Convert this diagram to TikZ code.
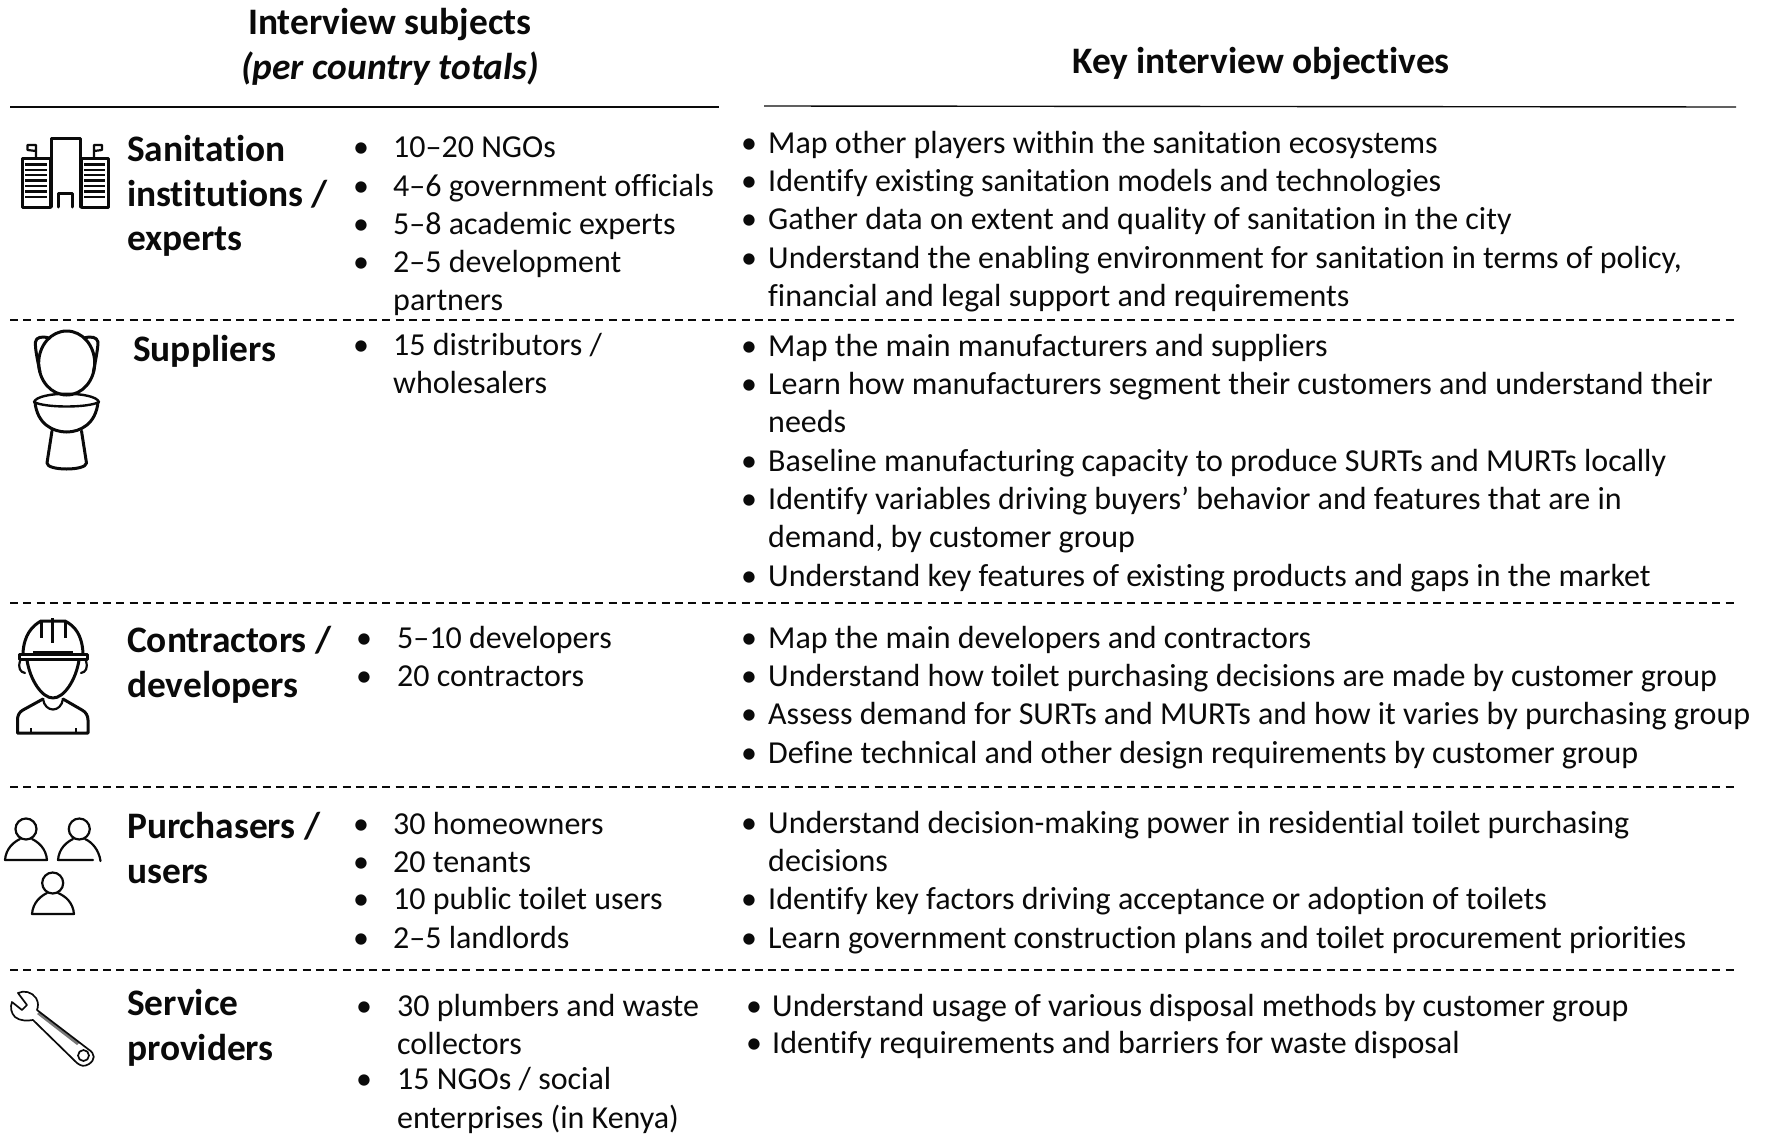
\documentclass[tikz,border=0pt]{standalone}
\usepackage{fontspec}
\setmainfont{Carlito}[Ligatures=NoCommon]
\definecolor{ink}{HTML}{0A0A0A}
\tikzset{
  body/.style={inner sep=0pt,anchor=north west,align=left,text=ink,font=\fontsize{32}{38.2}\selectfont,yshift=15.5pt},
  lab/.style={inner sep=0pt,anchor=north west,align=left,text=ink,font=\bfseries\fontsize{37.4}{44.6}\selectfont,yshift=18pt},
  head/.style={inner sep=0pt,anchor=center,align=center,text=ink,font=\bfseries\fontsize{37.4}{44.6}\selectfont},
  rulesolid/.style={draw=ink,line width=1.4pt},
  ruledash/.style={draw=ink,line width=1.2pt,dash pattern=on 8pt off 5.3pt},
  icon/.style={draw=ink,line width=3pt,line join=round,line cap=round,fill=none},
  iconthin/.style={draw=ink,line width=2.2pt,line join=round,line cap=round,fill=none},
  iconfine/.style={draw=ink,line width=1.7pt,line join=round,line cap=round,fill=none}
}
\newcommand{\rowitem}[5]{%
  \node[body,anchor=north] (#1b) at (#2,#4) {\strut•};
  \node[body] (#1t) at (#3,#4) {\strut #5};}
\begin{document}
\begin{tikzpicture}[x=1pt,y=-1pt]
\useasboundingbox (0,0) rectangle (1769,1135);
% headers
\node[head] (h1) at (390,25) {Interview subjects};
\node[head,font=\bfseries\itshape\fontsize{37.4}{44.6}\selectfont] (h2) at (390,69) {(per country totals)};
\node[head] (h3) at (1261,64) {Key interview objectives};
% rules
\coordinate (l1a) at (10,107); \coordinate (l1b) at (719,107);
\coordinate (l2a) at (764,106); \coordinate (l2b) at (1736,107);
\draw[rulesolid] (l1a) -- (l1b);
\draw[rulesolid] (l2a) -- (l2b);
\foreach \n/\y in {a/320,b/603,c/787,d/970}{
  \coordinate (d\n1) at (10,\y); \coordinate (d\n2) at (1736,\y);
  \draw[ruledash] (d\n1) -- (d\n2);
}
% row labels
\node[lab] (s1) at (127,148) {\strut Sanitation\\institutions /\\experts};
\node[lab] (s2) at (133,348) {\strut Suppliers};
\node[lab] (s3) at (127,639) {\strut Contractors /\\developers};
\node[lab] (s4) at (127,825) {\strut Purchasers /\\users};
\node[lab] (s5) at (127,1002) {\strut Service\\providers};
% subjects
\rowitem{a1}{361}{393}{146.5}{10–20 NGOs}
\rowitem{a2}{361}{393}{185}{4–6 government officials}
\rowitem{a3}{361}{393}{223}{5–8 academic experts}
\rowitem{a4}{361}{393}{261}{2–5 development\\partners}
\rowitem{b1}{361}{393}{344}{15 distributors /\\wholesalers}
\rowitem{c1}{364}{397}{637}{5–10 developers}
\rowitem{c2}{364}{397}{675}{20 contractors}
\rowitem{d1}{361}{393}{823}{30 homeowners}
\rowitem{d2}{361}{393}{861}{20 tenants}
\rowitem{d3}{361}{393}{898}{10 public toilet users}
\rowitem{d4}{361}{393}{937}{2–5 landlords}
\rowitem{e1}{364}{397}{1005}{30 plumbers and waste\\collectors}
\rowitem{e2}{364}{397}{1078.5}{15 NGOs / social\\enterprises (in Kenya)}
% objectives
\rowitem{f1}{749}{768}{142}{Map other players within the sanitation ecosystems}
\rowitem{f2}{749}{768}{180}{Identify existing sanitation models and technologies}
\rowitem{f3}{749}{768}{218}{Gather data on extent and quality of sanitation in the city}
\rowitem{f4}{749}{768}{257}{Understand the enabling environment for sanitation in terms of policy,\\financial and legal support and requirements}
\rowitem{g1}{749}{768}{345}{Map the main manufacturers and suppliers}
\rowitem{g2}{749}{768}{383}{Learn how manufacturers segment their customers and understand their\\needs}
\rowitem{g3}{749}{768}{460}{Baseline manufacturing capacity to produce SURTs and MURTs locally}
\rowitem{g4}{749}{768}{498}{Identify variables driving buyers’ behavior and features that are in\\demand, by customer group}
\rowitem{g5}{749}{768}{575}{Understand key features of existing products and gaps in the market}
\rowitem{h1}{749}{768}{637}{Map the main developers and contractors}
\rowitem{h2}{749}{768}{675}{Understand how toilet purchasing decisions are made by customer group}
\rowitem{h3}{749}{768}{713}{Assess demand for SURTs and MURTs and how it varies by purchasing group}
\rowitem{h4}{749}{768}{752}{Define technical and other design requirements by customer group}
\rowitem{i1}{749}{768}{822}{Understand decision-making power in residential toilet purchasing\\decisions}
\rowitem{i2}{749}{768}{898}{Identify key factors driving acceptance or adoption of toilets}
\rowitem{i3}{749}{768}{937}{Learn government construction plans and toilet procurement priorities}
\rowitem{j1}{754}{772}{1005}{Understand usage of various disposal methods by customer group}
\rowitem{j2}{754}{772}{1042.5}{Identify requirements and barriers for waste disposal}
% building icon
\draw[icon] (22,158) rectangle (50,207);
\draw[icon] (81,158) rectangle (108,207);
\draw[icon] (51,207) -- (51,138) -- (80,138) -- (80,207);
\draw[icon] (58,207) -- (58,193) -- (72,193) -- (72,207);
\foreach \y in {164.5,170,175,180.5,186,191.5,197}{
  \draw[icon,line width=2.6pt,line cap=butt] (25,\y) -- (47,\y);
  \draw[icon,line width=2.6pt,line cap=butt] (84,\y) -- (105,\y);
}
\draw[iconthin] (36,158) -- (36,145) -- (27.5,145) -- (27.5,150) -- (36,151);
\draw[iconthin] (94,158) -- (94,145) -- (102,145) -- (102,150) -- (94,151);
% toilet icon
\draw[icon] (66.7,363) ellipse [x radius=28,y radius=32];
\draw[icon] (40,372) .. controls (37,358) and (35,348) .. (35.5,342) .. controls (36,337) and (42,336) .. (49,338);
\draw[icon] (93.4,372) .. controls (96,358) and (98,348) .. (98,342) .. controls (97,337) and (91,336) .. (84,338);
\draw[icon,line width=2.4pt] (34,402) .. controls (38,391) and (95,391) .. (99,402);
\draw[icon,line width=2.4pt] (34,402) .. controls (45,408) and (88,408) .. (99,402);
\draw[icon] (35,402) .. controls (37,424) and (53,432) .. (66.7,432) .. controls (80,432) and (96,424) .. (98,402);
\draw[icon] (52,431) -- (47,463) .. controls (47,471) and (86,471) .. (86.5,463) -- (81.5,431);
% worker icon
\draw[icon] (23,653) .. controls (24,635) and (32,626) .. (41,621) -- (65,621) .. controls (75,626) and (82,635) .. (83,653);
\draw[icon] (19,654) rectangle (87,659);
\draw[icon,line cap=butt] (41,622) -- (41,638);
\draw[icon,line cap=butt] (52.7,618) -- (52.7,643);
\draw[icon,line cap=butt] (65,622) -- (65,638);
\draw[icon,line cap=butt] (33,652) -- (73,652);
\draw[icon] (27,660) .. controls (30,680) and (42,698) .. (53,698) .. controls (64,698) and (76,680) .. (79,660);
\draw[iconthin] (20,661) .. controls (18,668) and (20,672) .. (25,673);
\draw[iconthin] (86,661) .. controls (88,668) and (86,672) .. (81,673);
\draw[icon] (43,699) -- (23,710) .. controls (19,712) and (17.5,716) .. (17.5,720) -- (17.5,733) -- (88,733) -- (88,720) .. controls (88,716) and (86,712) .. (82,710) -- (63,699);
\draw[iconthin] (43,699) .. controls (45,713) and (61,713) .. (63,699);
\draw[iconthin,line cap=butt] (30.7,728) -- (30.7,733);
\draw[iconthin,line cap=butt] (75.7,728) -- (75.7,733);
% people icon
\draw[iconthin] (26,829) circle [radius=10.5];
\draw[iconthin] (5,860) .. controls (6,848) and (14,842) .. (20,839);
\draw[iconthin] (32,839) .. controls (38,842) and (46,848) .. (47,860) -- (5,860);
\draw[iconthin] (79.3,829) circle [radius=10.5];
\draw[iconthin] (93,860) -- (58,860) .. controls (59,848) and (67,842) .. (73,839);
\draw[iconthin] (85,839) .. controls (92,842) and (99,850) .. (100.5,861);
\draw[iconthin] (52.7,883) circle [radius=10.5];
\draw[iconthin] (32,914) .. controls (33,902) and (41,896) .. (47,893);
\draw[iconthin] (58,893) .. controls (65,896) and (73,902) .. (74,914) -- (32,914);
% wrench icon
\fill[ink!55] (39,1012) -- (79,1043) -- (77,1045) -- (37,1014) -- cycle;
\draw[iconfine] (12,1002) -- (22,1010) -- (27,1005) -- (18,993) .. controls (24,990) and (32,992) .. (36,998) .. controls (39,1003) and (38,1007) .. (37,1010) -- (88,1049) .. controls (96,1054) and (95,1060) .. (89,1064) .. controls (84,1067) and (81,1066) .. (77,1063) -- (33,1020) .. controls (27,1021) and (20,1021) .. (15,1017) .. controls (11,1013) and (10,1007) .. (12,1002) -- cycle;
\draw[iconfine] (83.5,1055.5) circle [radius=5.5];
\end{tikzpicture}
\end{document}
